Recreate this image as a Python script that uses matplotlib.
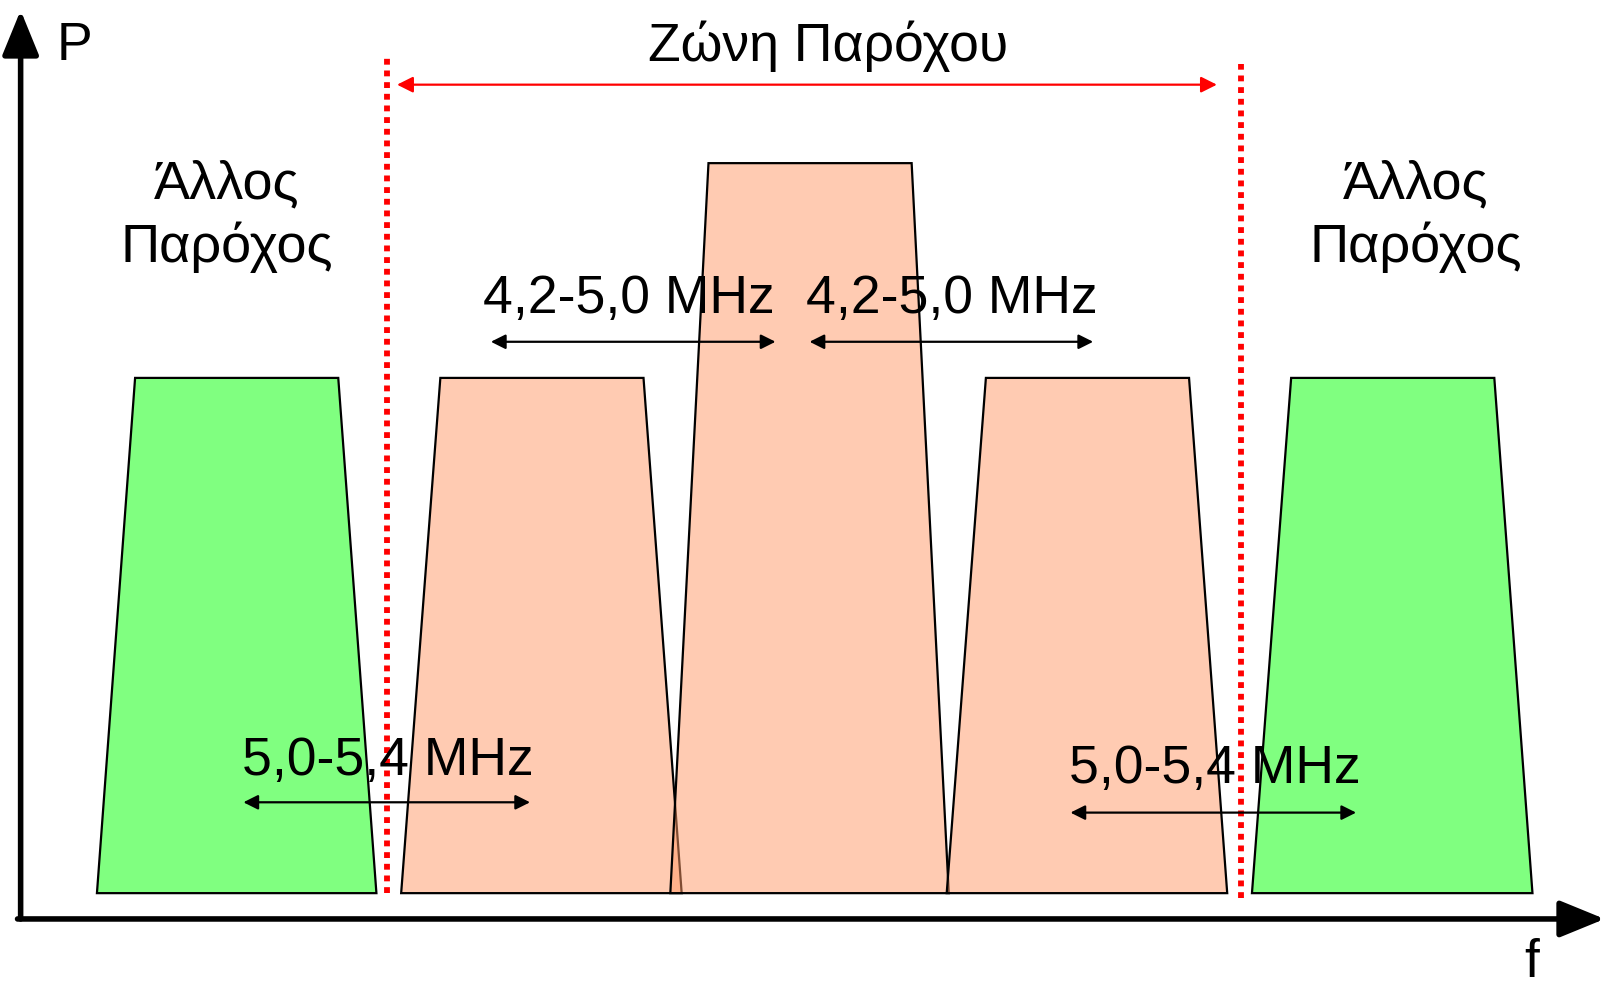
import matplotlib.pyplot as plt
from matplotlib.patches import Polygon

plt.rcParams['font.family'] = ['Liberation Sans', 'DejaVu Sans']

# channel bands: x at bottom / top corners, power level of the flat top
band_bottom_left = [94, 389, 650, 918, 1214]
band_bottom_right = [365, 661, 920, 1190, 1486]
band_top_left = [131, 427, 687, 956, 1252]
band_top_right = [328, 624, 884, 1153, 1449]
band_level = [524, 524, 732, 524, 524]
band_base = 25
band_owner = ["other", "own", "own", "own", "other"]

# edges of the provider's zone
zone_edges = [375, 1203]
zone_label = "Ζώνη Παρόχου"
other_label = "Άλλος\nΠαρόχος"
other_label_x = [220, 1373]

# bandwidth annotations: label, x from, x to, label x, arrow level
bw_labels = ["4,2-5,0 MHz", "4,2-5,0 MHz", "5,0-5,4 MHz", "5,0-5,4 MHz"]
bw_from = [476, 785, 236, 1038]
bw_to = [752, 1060, 514, 1315]
bw_text_x = [610, 923, 376, 1178]
bw_level = [559, 559, 113, 103]
bw_text_level = [600, 600, 153, 145]

colors = {"other": "#80ff80", "own": (1.0, 0.6, 0.4, 0.5)}
FS = 38.5

fig = plt.figure(figsize=(16.16, 9.9), dpi=100)
ax = fig.add_axes([0, 0, 1, 1])
ax.set_xlim(0, 1567)
ax.set_ylim(-68.8, 890)
ax.axis("off")

for bl, br, tl, tr, lv, owner in zip(band_bottom_left, band_bottom_right,
                                      band_top_left, band_top_right,
                                      band_level, band_owner):
    poly = Polygon([(bl, band_base), (br, band_base), (tr, lv), (tl, lv)],
                   closed=True, facecolor=colors[owner], edgecolor="black",
                   linewidth=1.6, zorder=2)
    ax.add_patch(poly)

# zone boundaries
ax.plot([zone_edges[0]] * 2, [25, 838], color="red", lw=4.2,
        linestyle=(0, (1, 1)), dash_capstyle="butt", zorder=3)
ax.plot([zone_edges[1]] * 2, [20, 828], color="red", lw=4.2,
        linestyle=(0, (1, 1)), dash_capstyle="butt", zorder=3)
ax.annotate("", xy=(1180, 808), xytext=(385, 808),
            arrowprops=dict(arrowstyle="<|-|>", color="red", lw=1.6,
                            mutation_scale=24, shrinkA=0, shrinkB=0))
ax.text(803, 845, zone_label, fontsize=FS, ha="center", va="center")

for x in other_label_x:
    ax.text(x, 681, other_label, fontsize=FS + 0.5, ha="center", va="center",
            linespacing=1.3)

for lab, x0, x1, tx, lv, tlv in zip(bw_labels, bw_from, bw_to, bw_text_x,
                                     bw_level, bw_text_level):
    ax.annotate("", xy=(x1, lv), xytext=(x0, lv),
                arrowprops=dict(arrowstyle="<|-|>", color="black", lw=1.6,
                                mutation_scale=22, shrinkA=0, shrinkB=0),
                zorder=4)
    ax.text(tx, tlv, lab, fontsize=FS, ha="center", va="center", zorder=5)

# axes arrows
ax.annotate("", xy=(20, 880), xytext=(20, 0),
            arrowprops=dict(arrowstyle="-|>,head_width=0.45,head_length=1.1",
                            color="black", lw=4, mutation_scale=25,
                            shrinkA=0, shrinkB=0))
ax.annotate("", xy=(1556, 0), xytext=(17, 0),
            arrowprops=dict(arrowstyle="-|>,head_width=0.45,head_length=1.1",
                            color="black", lw=4, mutation_scale=25,
                            shrinkA=0, shrinkB=0))
ax.text(72, 845, "P", fontsize=FS, ha="center", va="center")
ax.text(1485, -56, "f", fontsize=FS, ha="center", va="baseline")

fig.savefig("out.png", dpi=100)
